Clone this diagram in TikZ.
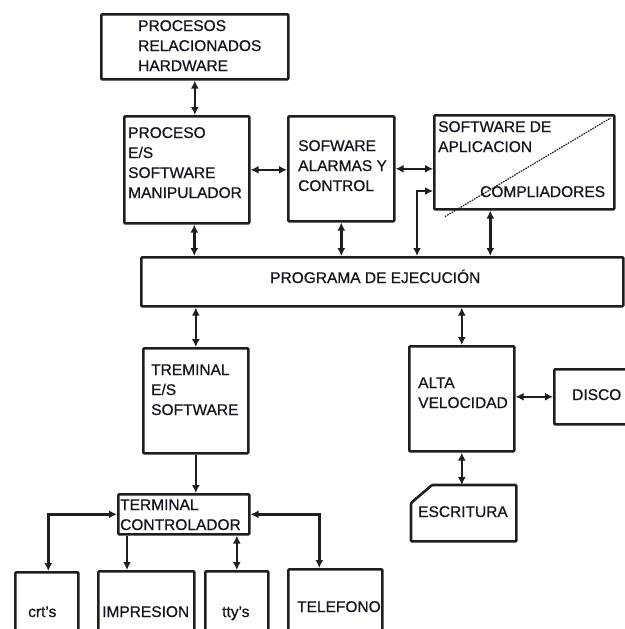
\documentclass[tikz,border=0pt]{standalone}
\usepackage{fontspec}
\setmainfont[FakeBold=0.6]{Liberation Sans}
\definecolor{LineColor}{RGB}{30,30,30}
\definecolor{TextColor}{RGB}{20,20,30}
\usetikzlibrary{positioning, arrows.meta, calc}
\tikzstyle{dblarrow} = [line width=2.6pt, LineColor, {Latex[length=8pt,width=8pt]}-{Latex[length=8pt,width=8pt]}]
\tikzstyle{onearrow} = [line width=2.6pt, LineColor, -{Latex[length=8pt,width=8pt]}]
\tikzset{
  block/.style={draw=LineColor, line width=2.6pt, rectangle, rounded corners=1pt, anchor=north west, inner sep=0pt},
  txt/.style={TextColor, inner sep=0pt, align=left, anchor=base west, font=\fontsize{15.5}{20}\selectfont}
}
\begin{document}
\begin{tikzpicture}[x=1pt, y=-1pt]
                \useasboundingbox (0,0) rectangle (624,629);

                % Upper blocks (text anchored at the baseline of its last line)
                \node[block, minimum width=187pt, minimum height=65pt] (hw) at (100,13) {};
                \node[txt] at (138,71) {PROCESOS\\RELACIONADOS\\HARDWARE};
                \node[block, minimum width=125pt, minimum height=107pt] (pes) at (123,115) {};
                \node[txt] at (128,198) {PROCESO\\E/S\\SOFTWARE\\MANIPULADOR};
                \node[block, minimum width=106pt, minimum height=105pt] (alarm) at (287,115) {};
                \node[txt] at (298,191) {SOFWARE\\ALARMAS Y\\CONTROL};
                \node[block, minimum width=180pt, minimum height=94pt] (aplic) at (433,114) {};
                \node[txt] at (438,152) {SOFTWARE DE\\APLICACION};
                \node[txt] at (480,197) {COMPLIADORES};
                \draw[LineColor, line width=1.2pt, dash pattern=on 1.6pt off 1pt] ([shift={(12pt,-6pt)}]aplic.south west) -- ([shift={(-5pt,-4pt)}]aplic.north east);

                % Execution bus
                \node[block, minimum width=482pt, minimum height=49pt] (bus) at (140,256) {};
                \node[txt] at (270,283) {PROGRAMA DE EJECUCIÓN};

                % Lower blocks
                \node[block, minimum width=105pt, minimum height=105pt] (term) at (142,347) {};
                \node[txt] at (151,415) {TREMINAL\\E/S\\SOFTWARE};
                \node[block, minimum width=105pt, minimum height=105pt] (alta) at (408,345) {};
                \node[txt] at (418,408) {ALTA\\VELOCIDAD};
                \node[block, minimum width=77pt, minimum height=55pt] (disco) at (553,368) {};
                \node[txt] at (572,400) {DISCO};
                \node[inner sep=0pt, anchor=north west, minimum width=105pt, minimum height=56pt] (escr) at (411,485) {};
                \draw[LineColor, line width=2.6pt, rounded corners=1pt] ([yshift=-18pt]escr.north west) -- ([xshift=21pt]escr.north west) -- (escr.north east) -- (escr.south east) -- (escr.south west) -- cycle;
                \node[txt] at (418,517) {ESCRITURA};

                % Terminal devices
                \node[block, minimum width=131pt, minimum height=40pt] (ctrl) at (117,493) {};
                \node[txt] at (120,530) {TERMINAL\\CONTROLADOR};
                \node[block, minimum width=63pt, minimum height=70pt] (crt) at (14,571) {};
                \node[txt] at (28,617) {crt's};
                \node[block, minimum width=96pt, minimum height=70pt] (impr) at (97,570) {};
                \node[txt] at (102,617) {IMPRESION};
                \node[block, minimum width=63pt, minimum height=70pt] (tty) at (204,570) {};
                \node[txt] at (222,617) {tty's};
                \node[block, minimum width=94pt, minimum height=72pt] (tel) at (287,568) {};
                \node[txt] at (297,612) {TELEFONO};

                % Connectors, upper part
                \draw[dblarrow] (hw.south) -- (hw.south |- pes.north);
                \draw[dblarrow] (pes.east) -- (pes.east -| alarm.west);
                \draw[dblarrow] (alarm.east) -- (alarm.east -| aplic.west);
                \coordinate (elbow) at (417,191);
                \draw[dblarrow] (elbow |- bus.north) -- (elbow) -- (elbow -| aplic.west);
                \coordinate (aplicfoot) at ([xshift=-34pt]aplic.south);
                \draw[dblarrow] (aplicfoot) -- (aplicfoot |- bus.north);
                \draw[dblarrow] (alarm.south) -- (alarm.south |- bus.north);
                \coordinate (pesfoot) at ([xshift=7.5pt]pes.south);
                \draw[dblarrow] (pesfoot) -- (pesfoot |- bus.north);

                % Connectors, lower part
                \draw[dblarrow] (term.north |- bus.south) -- (term.north);
                \draw[dblarrow] (alta.north |- bus.south) -- (alta.north);
                \draw[dblarrow] (alta.east |- disco.west) -- (disco.west);
                \draw[dblarrow] (alta.south) -- (alta.south |- escr.north);
                \draw[onearrow] (term.south) -- (term.south |- ctrl.north);
                \draw[dblarrow] (ctrl.west) -| ([xshift=1.5pt]crt.north);
                \coordinate (imprtop) at ([xshift=10pt]ctrl.south west);
                \draw[onearrow] (imprtop) -- (imprtop |- impr.north);
                \draw[dblarrow] (tty.north |- ctrl.south) -- (tty.north);
                \draw[dblarrow] (ctrl.east) -| ([xshift=-16pt]tel.north);
            \end{tikzpicture}
\end{document}
